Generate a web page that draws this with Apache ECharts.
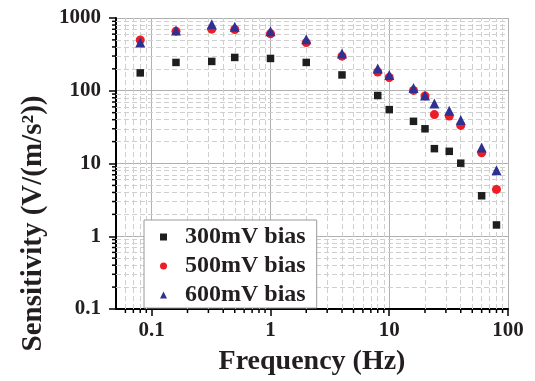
<!DOCTYPE html>
<html><head><meta charset="utf-8">
<script src="https://cdn.jsdelivr.net/npm/echarts@6/dist/echarts.min.js"></script>
<style>html,body{margin:0;padding:0;background:#fff}#c{width:535px;height:381px}</style>
</head><body><div id="c"></div>
<script>
const freq = [0.08, 0.16, 0.32, 0.5, 1, 2, 4, 8, 10, 16, 20, 24, 32, 40, 60, 80];
const s300 = [176, 245, 253, 287, 278, 245, 165, 86, 55, 38, 30, 16, 14.7, 10.1, 3.6, 1.43];
const s500 = [498, 660, 703, 695, 608, 459, 299, 181, 152, 101, 85, 47, 45, 33.4, 14, 4.4];
const s600 = [460, 675, 820, 760, 660, 510, 325, 203, 165, 109, 86, 67, 53, 39.5, 16.6, 8.1];
const seriesNames = ['300mV bias', '500mV bias', '600mV bias'];
const xMinor = [0.06,0.07,0.08,0.09,0.2,0.3,0.4,0.5,0.6,0.7,0.8,0.9,2,3,4,5,6,7,8,9,20,30,40,50,60,70,80,90];
const yMinor = [0.2,0.3,0.4,0.5,0.6,0.7,0.8,0.9,2,3,4,5,6,7,8,9,20,30,40,50,60,70,80,90,200,300,400,500,600,700,800,900];
const xTickLabels = ['0.1','1','10','100'];
const yTickLabels = ['0.1','1','10','100','1000'];

const FONT = 'Liberation Serif';
const TXT = '#231f20';
const chart = echarts.init(document.getElementById('c'));
const zip = (a,b)=>a.map((v,i)=>[v,b[i]]);
const minorTickData = xMinor.map(v=>[v,0.1,0]).concat(yMinor.map(v=>[0.05,v,1]));
const fmt = (list)=> (v)=>{ const s = String(+Number(v).toPrecision(6)); return list.includes(s)?s:''; };

chart.setOption({
  animation:false,
  grid:{left:116,right:27,top:18,bottom:68},
  xAxis:{type:'log',logBase:10,min:0.05,max:100,
    name:'Frequency (Hz)',nameLocation:'middle',nameGap:39,
    nameTextStyle:{fontFamily:FONT,fontWeight:'bold',fontSize:28,color:TXT},
    axisLine:{show:true,onZero:false,lineStyle:{color:'#000',width:2}},
    axisTick:{show:true,inside:false,length:7,lineStyle:{color:'#000',width:1.5}},
    axisLabel:{fontFamily:FONT,fontWeight:'bold',fontSize:21,color:TXT,margin:11,showMinLabel:false,formatter:fmt(xTickLabels)},
    splitLine:{show:true,lineStyle:{color:'#b0b0b0',width:1}}
  },
  yAxis:{type:'log',logBase:10,min:0.1,max:1000,
    name:'Sensitivity (V/(m/s²))',nameLocation:'middle',nameGap:62,nameRotate:90,
    nameTextStyle:{fontFamily:FONT,fontWeight:'bold',fontSize:29,color:TXT,padding:[0,120,0,0]},
    axisLine:{show:true,onZero:false,lineStyle:{color:'#000',width:2}},
    axisTick:{show:true,inside:false,length:7,lineStyle:{color:'#000',width:1.5}},
    axisLabel:{fontFamily:FONT,fontWeight:'bold',fontSize:21,color:TXT,margin:15,formatter:fmt(yTickLabels)},
    splitLine:{show:true,lineStyle:{color:'#b0b0b0',width:1}}
  },
  legend:{orient:'vertical',left:144,top:220,z:100,
    backgroundColor:'#ffffff',borderColor:'#9a9a9a',borderWidth:1,
    padding:[5,11,1,16],itemGap:5,itemWidth:7,itemHeight:7,
    textStyle:{fontFamily:FONT,fontWeight:'bold',fontSize:24,lineHeight:23.5,color:TXT,padding:[0,0,0,13]},
    data:seriesNames.map((n)=>({name:n}))
  },
  series:[
    {type:'line',data:[],silent:true,z:1,
      markLine:{silent:true,symbol:'none',label:{show:false},animation:false,
        lineStyle:{color:'#cfcfcf',type:[5,3],width:1},
        data:xMinor.map(v=>({xAxis:v})).concat(yMinor.map(v=>({yAxis:v})))}},
    {type:'custom',silent:true,z:5,clip:false,data:minorTickData,
      renderItem:(params,api)=>{
        const p = api.coord([api.value(0),api.value(1)]);
        const isY = api.value(2)===1;
        return {type:'line',shape:isY?{x1:p[0]-4,y1:p[1],x2:p[0],y2:p[1]}:{x1:p[0],y1:p[1],x2:p[0],y2:p[1]+4},
          style:{stroke:'#000',lineWidth:1.5}};
      }},
    {name:seriesNames[0],type:'scatter',data:zip(freq,s300),symbol:'rect',symbolSize:7.5,z:10,
      itemStyle:{color:'#1e1e1e',opacity:1}},
    {name:seriesNames[1],type:'scatter',data:zip(freq,s500),symbol:'circle',symbolSize:9,z:11,
      itemStyle:{color:'#ee1c25',opacity:1}},
    {name:seriesNames[2],type:'scatter',data:zip(freq,s600),symbol:'triangle',symbolSize:10,z:12,
      itemStyle:{color:'#2e3192',opacity:1}}
  ]
});
</script></body></html>
